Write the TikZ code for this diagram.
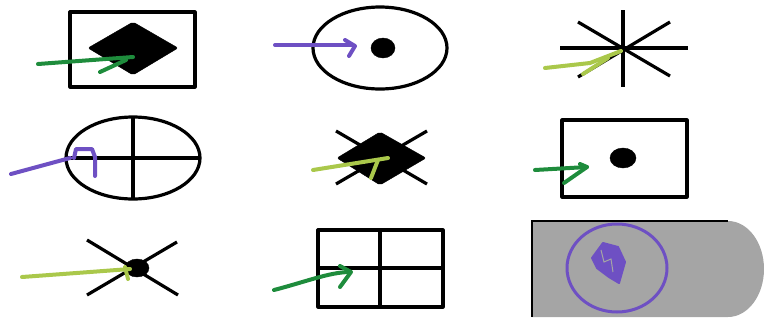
\documentclass[tikz,border=0pt]{standalone}
\definecolor{penGreen}{RGB}{30,140,60}
\definecolor{penPurple}{RGB}{110,80,195}
\definecolor{penLime}{RGB}{170,200,75}
\definecolor{padGray}{RGB}{165,165,165}
\tikzset{sym/.style={line width=3.2pt,line join=round},
  pen/.style={line width=4pt,line cap=round,line join=round}}
\begin{document}
\begin{tikzpicture}[x=1pt,y=-1pt]
\useasboundingbox (0,0) rectangle (764,322);
% row 1
\draw[sym](70,12) rectangle (195,87);
\draw[fill=black,rounded corners=2pt](88,48)--(133,22)--(178,48)--(133,75)--cycle;
\draw[pen,penGreen](38,64)--(133,57);
\draw[pen,penGreen](100,72)--(126,60);
\draw[sym](380,48) ellipse [x radius=67,y radius=41];
\draw[fill=black](383,48) ellipse [x radius=12,y radius=10];
\draw[pen,penPurple](275,45)--(352,45);
\draw[pen,penPurple](345,40)--(355,46)--(349,56);
\draw[sym](623,10)--(623,87);
\draw[sym](560,48)--(688,48);
\draw[sym](578,22)--(670,76);
\draw[sym](578,77)--(670,22);
\draw[pen,penLime](545,68)--(590,63)--(621,51);
\draw[pen,penLime](583,74)--(608,58);
% row 2
\draw[sym](133,158) ellipse [x radius=67,y radius=41];
\draw[sym](133,117)--(133,199);
\draw[sym](66,158)--(200,158);
\draw[pen,penPurple](11,174)--(70,158);
\draw[pen,penPurple](74,158)--(76,149)--(92,149)--(95,157)--(95,176);
\draw[sym](336,131)--(427,184);
\draw[sym](336,184)--(427,131);
\draw[fill=black,rounded corners=2pt](337,158)--(380,132)--(426,158)--(380,185)--cycle;
\draw[pen,penLime](313,170)--(388,158);
\draw[pen,penLime](378,160)--(371,178);
\draw[sym](562,120) rectangle (687,197);
\draw[fill=black](623,158) ellipse [x radius=13,y radius=10];
\draw[pen,penGreen](535,170)--(587,167);
\draw[pen,penGreen](580,164)--(587,167)--(564,183);
% row 3
\draw[sym](87,240)--(178,295);
\draw[sym](87,295)--(177,242);
\draw[fill=black](137,268) ellipse [x radius=12,y radius=9];
\draw[pen,penLime](22,277)--(90,272)--(130,269);
\draw[pen,penLime](125,267)--(128,279);
\draw[sym](318,230) rectangle (443,307);
\draw[sym](380,230)--(380,307);
\draw[sym](318,268)--(443,268);
\draw[pen,penGreen](274,290) .. controls (305,282) and (330,272) .. (350,272);
\draw[pen,penGreen](340,266)--(351,272)--(340,287);
\fill[padGray](532,221)--(728,221) arc[start angle=-90,end angle=90,x radius=36,y radius=48]--(532,317)--cycle;
\draw[line width=2.6pt](532,317)--(532,221)--(728,221);
\draw[line width=3pt,penPurple](617,268) ellipse [x radius=50,y radius=44];
\draw[penPurple,fill=penPurple,line width=2pt,line join=round](592,258)--(603,243)--(618,247)--(625,262)--(619,283)--(609,277)--(597,268)--cycle;
\draw[padGray,line width=1pt](601,250)--(604,262)--(611,259)--(613,272);
\end{tikzpicture}
\end{document}
